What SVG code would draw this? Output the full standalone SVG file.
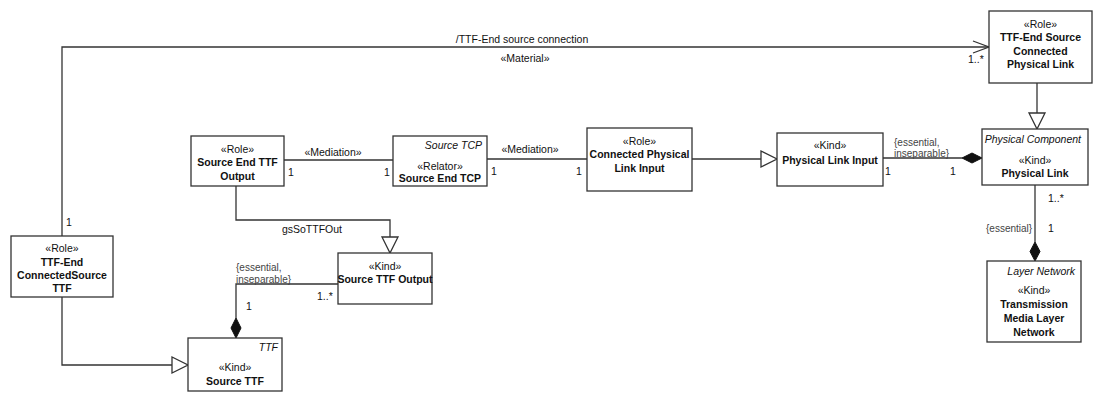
<svg xmlns="http://www.w3.org/2000/svg" width="1100" height="402" viewBox="0 0 1100 402">
<style>
.box{fill:#fff;stroke:#333;stroke-width:1.3}
.ln{fill:none;stroke:#333;stroke-width:1.3}
.gen{fill:#fff;stroke:#333;stroke-width:1.3}
.dia{fill:#111;stroke:#111;stroke-width:1}
text{font-family:"Liberation Sans",Arial,sans-serif;font-size:10.5px;fill:#111}
.c{text-anchor:middle}
.e{text-anchor:end}
.b{font-weight:bold}
.i{font-style:italic}
.k{font-size:10px;fill:#444}
</style>
<rect width="1100" height="402" fill="#fff"/>
<g id="connectors">
  <path class="ln" d="M62,236 V47 H989"/>
  <path class="ln" d="M973,41 L989,47 L973,53"/>
  <text class="c" x="522" y="43">/TTF-End source connection</text>
  <text class="c" x="525" y="62">«Material»</text>
  <text x="968" y="63">1..*</text>
  <text x="66" y="226">1</text>

  <path class="ln" d="M1037,83 V113"/>
  <polygon class="gen" points="1029,113 1045,113 1037,129"/>

  <path class="ln" d="M284,160 H393"/>
  <text class="c" x="333" y="156">«Mediation»</text>
  <text x="288" y="176">1</text>
  <text x="384" y="176">1</text>

  <path class="ln" d="M487,159 H587"/>
  <text class="c" x="530" y="153">«Mediation»</text>
  <text x="491" y="175">1</text>
  <text x="576" y="175">1</text>

  <path class="ln" d="M692,159 H761"/>
  <polygon class="gen" points="761,151 761,167 777,159"/>

  <path class="ln" d="M883,158 H962"/>
  <polygon class="dia" points="962,158 972,153 982,158 972,163"/>
  <text class="k" x="894" y="146">{essential,</text>
  <text class="k" x="894" y="157">inseparable}</text>
  <text x="885" y="175">1</text>
  <text x="950" y="175">1</text>

  <path class="ln" d="M1035,185 V242"/>
  <polygon class="dia" points="1035,242 1040,251.5 1035,261 1030,251.5"/>
  <text x="1048" y="202">1..*</text>
  <text class="k" x="986" y="232">{essential}</text>
  <text x="1048" y="232">1</text>

  <path class="ln" d="M236,186 V220 H390 V237"/>
  <polygon class="gen" points="382,237 398,237 390,253"/>
  <text class="c" x="312" y="233">gsSoTTFOut</text>

  <path class="ln" d="M338,284 H236 V318"/>
  <polygon class="dia" points="236,318 241,328 236,338 231,328"/>
  <text class="k" x="236" y="271">{essential,</text>
  <text class="k" x="236" y="283">inseparable}</text>
  <text x="246" y="310">1</text>
  <text x="317" y="300">1..*</text>

  <path class="ln" d="M62,297 V365 H172"/>
  <polygon class="gen" points="172,357 172,373 188,365"/>
</g>
<g id="ttf-end-source-connected-physical-link">
  <rect class="box" x="989" y="11" width="103" height="72"/>
  <text class="c" x="1040.5" y="28">«Role»</text>
  <text class="c b" x="1040.5" y="41">TTF-End Source</text>
  <text class="c b" x="1040.5" y="55">Connected</text>
  <text class="c b" x="1040.5" y="68">Physical Link</text>
</g>
<g id="source-end-ttf-output">
  <rect class="box" x="191" y="136" width="93" height="50"/>
  <text class="c" x="237.5" y="153">«Role»</text>
  <text class="c b" x="237.5" y="166">Source End TTF</text>
  <text class="c b" x="237.5" y="180">Output</text>
</g>
<g id="source-end-tcp">
  <rect class="box" x="393" y="136" width="94" height="50"/>
  <text class="e i" x="482" y="149">Source TCP</text>
  <text class="c" x="440" y="170">«Relator»</text>
  <text class="c b" x="440" y="182">Source End TCP</text>
</g>
<g id="connected-physical-link-input">
  <rect class="box" x="587" y="128" width="105" height="63"/>
  <text class="c" x="639.5" y="145">«Role»</text>
  <text class="c b" x="639.5" y="158">Connected Physical</text>
  <text class="c b" x="639.5" y="172">Link Input</text>
</g>
<g id="physical-link-input">
  <rect class="box" x="777" y="133" width="106" height="53"/>
  <text class="c" x="830" y="149">«Kind»</text>
  <text class="c b" x="830" y="164">Physical Link Input</text>
</g>
<g id="physical-link">
  <rect class="box" x="982" y="129" width="106" height="56"/>
  <text class="e i" x="1081" y="143">Physical Component</text>
  <text class="c" x="1035" y="164">«Kind»</text>
  <text class="c b" x="1035" y="177">Physical Link</text>
</g>
<g id="transmission-media-layer-network">
  <rect class="box" x="987" y="261" width="94" height="81"/>
  <text class="e i" x="1075" y="275">Layer Network</text>
  <text class="c" x="1034" y="294">«Kind»</text>
  <text class="c b" x="1034" y="308">Transmission</text>
  <text class="c b" x="1034" y="322">Media Layer</text>
  <text class="c b" x="1034" y="336">Network</text>
</g>
<g id="ttf-end-connectedsource-ttf">
  <rect class="box" x="11" y="236" width="102" height="61"/>
  <text class="c" x="62" y="252">«Role»</text>
  <text class="c b" x="62" y="266">TTF-End</text>
  <text class="c b" x="62" y="279">ConnectedSource</text>
  <text class="c b" x="62" y="292">TTF</text>
</g>
<g id="source-ttf-output">
  <rect class="box" x="338" y="253" width="94" height="51"/>
  <text class="c" x="385" y="270">«Kind»</text>
  <text class="c b" x="385" y="283">Source TTF Output</text>
</g>
<g id="source-ttf">
  <rect class="box" x="188" y="338" width="94" height="53"/>
  <text class="e i" x="278" y="351">TTF</text>
  <text class="c" x="235" y="371">«Kind»</text>
  <text class="c b" x="235" y="385">Source TTF</text>
</g>
</svg>
